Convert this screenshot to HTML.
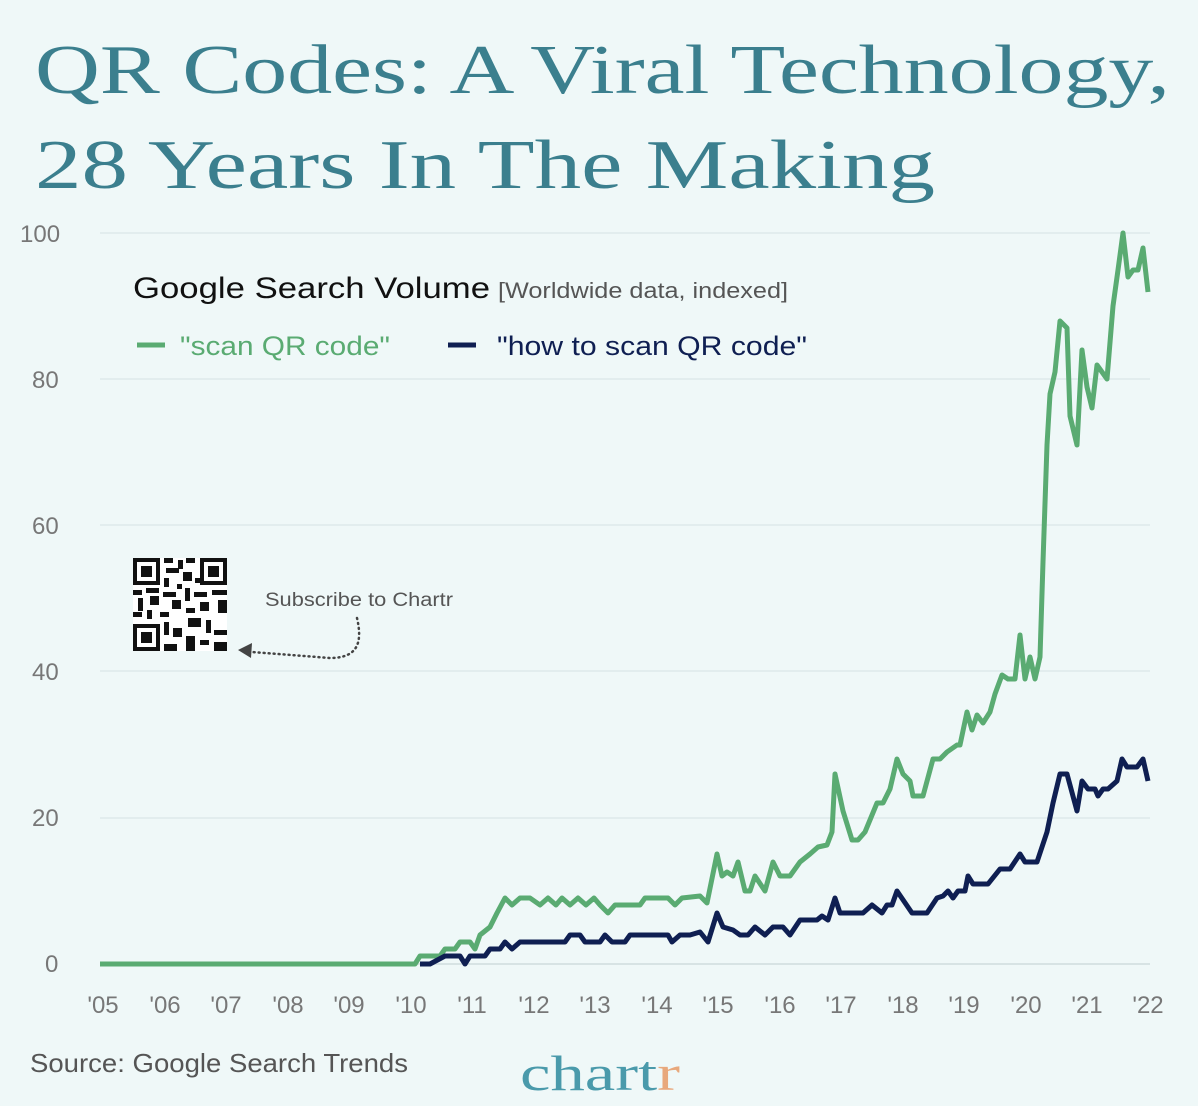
<!DOCTYPE html>
<html><head><meta charset="utf-8"><style>
html,body{margin:0;padding:0;background:#eff8f8;}
svg{display:block;}
</style></head><body>
<svg width="1198" height="1106" viewBox="0 0 1198 1106" xmlns="http://www.w3.org/2000/svg">
<rect width="1198" height="1106" fill="#eff8f8"/>
<g font-family="Liberation Serif, serif" fill="#3b7f8e" font-size="70">
<text x="35" y="93" textLength="1135" lengthAdjust="spacingAndGlyphs">QR Codes: A Viral Technology,</text>
<text x="35" y="188" textLength="900" lengthAdjust="spacingAndGlyphs">28 Years In The Making</text>
</g>
<g stroke="#dde9ea" stroke-width="1.5">
<line x1="100" y1="233" x2="1150" y2="233"/><line x1="100" y1="379" x2="1150" y2="379"/>
<line x1="100" y1="525" x2="1150" y2="525"/><line x1="100" y1="671" x2="1150" y2="671"/>
<line x1="100" y1="818" x2="1150" y2="818"/><line x1="100" y1="964" x2="1150" y2="964" stroke="#cfdcdd"/>
</g>
<g font-family="Liberation Sans, sans-serif" font-size="24" fill="#777">
<text x="20" y="242">100</text><text x="32" y="388">80</text><text x="32" y="534">60</text>
<text x="32" y="680">40</text><text x="32" y="826">20</text><text x="45" y="972">0</text>
</g>
<g font-family="Liberation Sans, sans-serif" font-size="24" fill="#777" text-anchor="middle">
<text x="103" y="1013">'05</text><text x="165" y="1013">'06</text><text x="226" y="1013">'07</text>
<text x="288" y="1013">'08</text><text x="349" y="1013">'09</text><text x="411" y="1013">'10</text>
<text x="472" y="1013">'11</text><text x="534" y="1013">'12</text><text x="595" y="1013">'13</text>
<text x="657" y="1013">'14</text><text x="718" y="1013">'15</text><text x="780" y="1013">'16</text>
<text x="841" y="1013">'17</text><text x="903" y="1013">'18</text><text x="964" y="1013">'19</text>
<text x="1026" y="1013">'20</text><text x="1087" y="1013">'21</text><text x="1148" y="1013">'22</text>
</g>
<polyline fill="none" stroke="#5aab72" stroke-width="5" stroke-linejoin="round" points="100,964 415,964 420,956 440,956 445,949 455,949 460,942 470,942 475,949 480,935 490,927 497,913 505,898 512,905 520,898 530,898 540,905 548,898 556,905 562,898 570,905 578,898 586,905 594,898 600,905 608,913 615,905 640,905 645,898 668,898 675,905 682,898 700,896 707,903 717,854 722,876 727,872 733,876 738,862 745,891 750,891 755,876 765,891 773,862 780,876 790,876 800,862 810,854 818,847 827,845 832,832 835,774 843,811 852,840 858,840 865,832 877,803 883,803 890,789 897,759 903,774 910,781 913,796 923,796 933,759 940,759 947,752 957,745 960,745 967,712 972,730 977,715 983,723 990,712 995,694 1002,675 1008,679 1015,679 1020,635 1025,679 1030,657 1035,679 1040,657 1043,562 1047,445 1050,394 1055,372 1060,321 1067,328 1070,416 1077,445 1082,350 1087,387 1092,408 1097,365 1107,379 1113,306 1118,270 1123,233 1128,277 1133,270 1138,270 1143,248 1148,292"/>
<polyline fill="none" stroke="#0f1f52" stroke-width="5" stroke-linejoin="round" points="420,964 430,964 445,956 460,956 465,964 470,956 485,956 490,949 500,949 505,942 512,949 520,942 565,942 570,935 580,935 585,942 600,942 605,935 612,942 625,942 630,935 668,935 672,942 680,935 690,935 700,932 708,942 717,913 723,927 733,930 740,935 748,935 755,927 765,935 773,927 783,927 790,935 800,920 817,920 822,916 828,920 835,898 840,913 863,913 872,905 882,913 887,905 892,905 897,891 912,913 927,913 937,898 943,896 948,891 953,898 958,891 965,891 968,876 973,884 988,884 1000,869 1010,869 1020,854 1025,862 1037,862 1047,832 1053,803 1060,774 1067,774 1077,811 1082,781 1088,789 1095,789 1098,796 1103,789 1108,789 1117,781 1122,759 1127,767 1137,767 1143,759 1148,781"/>
<text x="133" y="298" font-family="Liberation Sans, sans-serif" font-size="30" fill="#111" textLength="357" lengthAdjust="spacingAndGlyphs">Google Search Volume</text>
<text x="498" y="298" font-family="Liberation Sans, sans-serif" font-size="22" fill="#555" textLength="290" lengthAdjust="spacingAndGlyphs">[Worldwide data, indexed]</text>
<line x1="137" y1="345" x2="165" y2="345" stroke="#5aab72" stroke-width="5"/>
<text x="180" y="355" font-family="Liberation Sans, sans-serif" font-size="27" fill="#5aab72" textLength="210" lengthAdjust="spacingAndGlyphs">"scan QR code"</text>
<line x1="448" y1="345" x2="476" y2="345" stroke="#0f1f52" stroke-width="5"/>
<text x="497" y="355" font-family="Liberation Sans, sans-serif" font-size="27" fill="#0f1f52" textLength="310" lengthAdjust="spacingAndGlyphs">"how to scan QR code"</text>
<g fill="#111">
<rect x="133" y="558" width="94" height="93" fill="#fff"/>
<path fill-rule="evenodd" d="M133 558h27v27h-27zM137 562v19h19v-19z M200 558h27v27h-27zM204 562v19h19v-19z M133 624h27v27h-27zM137 628v19h19v-19z"/>
<rect x="141" y="566" width="11" height="11"/><rect x="208" y="566" width="11" height="11"/><rect x="141" y="632" width="11" height="11"/>
<rect x="164" y="558" width="9" height="5"/><rect x="178" y="560" width="5" height="9"/><rect x="186" y="558" width="9" height="5"/><rect x="166" y="568" width="13" height="5"/><rect x="183" y="572" width="9" height="9"/><rect x="164" y="578" width="5" height="9"/>
<rect x="133" y="590" width="9" height="5"/><rect x="146" y="588" width="13" height="5"/><rect x="138" y="598" width="5" height="13"/><rect x="150" y="596" width="9" height="9"/><rect x="163" y="592" width="13" height="5"/><rect x="172" y="600" width="9" height="9"/><rect x="185" y="588" width="5" height="13"/><rect x="194" y="592" width="13" height="5"/><rect x="212" y="590" width="15" height="5"/><rect x="200" y="602" width="9" height="9"/><rect x="218" y="600" width="9" height="13"/>
<rect x="133" y="612" width="9" height="5"/><rect x="147" y="610" width="5" height="9"/><rect x="160" y="612" width="9" height="5"/><rect x="186" y="608" width="9" height="5"/><rect x="164" y="622" width="5" height="13"/><rect x="173" y="628" width="9" height="9"/><rect x="188" y="618" width="13" height="9"/><rect x="206" y="620" width="5" height="13"/><rect x="214" y="630" width="13" height="5"/><rect x="164" y="644" width="13" height="7"/><rect x="186" y="636" width="9" height="15"/><rect x="200" y="640" width="9" height="5"/><rect x="214" y="642" width="13" height="9"/><rect x="177" y="584" width="5" height="5"/><rect x="195" y="578" width="5" height="5"/>
</g>
<text x="265" y="606" font-family="Liberation Sans, sans-serif" font-size="19" fill="#555" textLength="188" lengthAdjust="spacingAndGlyphs">Subscribe to Chartr</text>
<path d="M357 618 C362 640 360 658 330 658 L252 652" fill="none" stroke="#444" stroke-width="2.5" stroke-dasharray="1 4" stroke-linecap="round"/>
<polygon points="238,650 252,643 251,658" fill="#444"/>
<text x="30" y="1072" font-family="Liberation Sans, sans-serif" font-size="26" fill="#555" textLength="378" lengthAdjust="spacingAndGlyphs">Source: Google Search Trends</text>
<text x="520" y="1090" font-family="Liberation Serif, serif" font-size="50" fill="#4a9aab" textLength="160" lengthAdjust="spacingAndGlyphs">chart<tspan fill="#e8a87c">r</tspan></text>
</svg>
</body></html>
